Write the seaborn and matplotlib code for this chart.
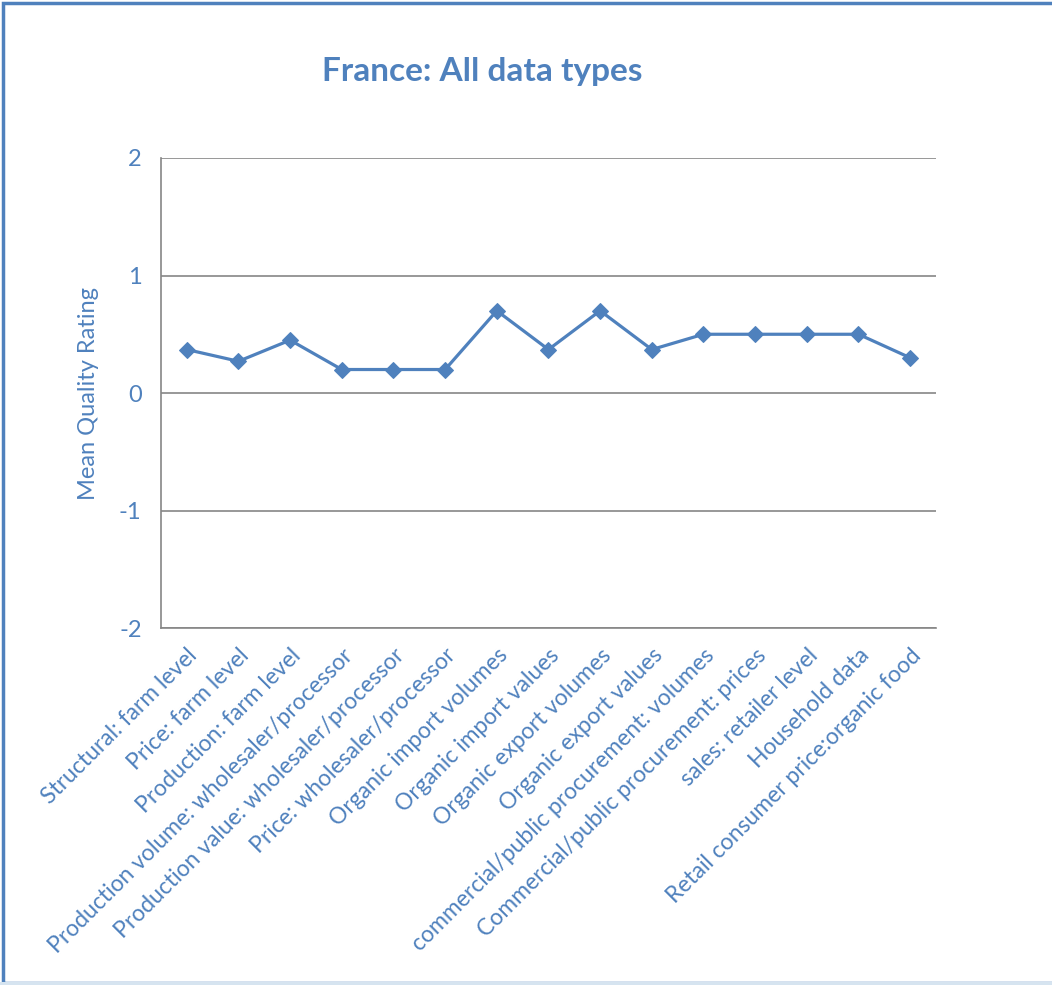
import numpy as np
import pandas as pd
import matplotlib
matplotlib.use("Agg")
import matplotlib.pyplot as plt
from matplotlib.patches import Rectangle
import seaborn as sns

categories = [
    "Structural: farm level",
    "Price: farm level",
    "Production: farm level",
    "Production volume: wholesaler/processor",
    "Production value: wholesaler/processor",
    "Price: wholesaler/processor",
    "Organic import volumes",
    "Organic import values",
    "Organic export volumes",
    "Organic export values",
    "commercial/public procurement: volumes",
    "Commercial/public procurement: prices",
    "sales: retailer level",
    "Household data",
    "Retail consumer price:organic food",
]
values = [0.37, 0.27, 0.45, 0.2, 0.2, 0.2, 0.7, 0.37, 0.7, 0.37, 0.5, 0.5, 0.5, 0.5, 0.3]
y_ticks = [-2, -1, 0, 1, 2]

blue = "#4F81BD"
grid = "#868686"

sns.set_style("white")
plt.rcParams["font.family"] = ["Lato", "DejaVu Sans"]

fig = plt.figure(figsize=(10.52, 9.85), dpi=100)
ax = fig.add_axes([0.153, 0.3624, 0.7367, 0.4772])

df = pd.DataFrame({"pos": np.arange(len(categories)), "value": values})
sns.lineplot(data=df, x="pos", y="value", ax=ax, color=blue, linewidth=2.3,
             marker="D", markersize=8.5, markeredgecolor=blue, sort=False)

ax.set_xlim(-0.5, len(categories) - 0.5)
ax.set_ylim(-2, 2)
ax.set_yticks(y_ticks)
ax.set_yticklabels([str(t) for t in y_ticks], color=blue, fontsize=17)
ax.yaxis.grid(True, color=grid, linewidth=1.2)
ax.set_axisbelow(True)

ax.set_xticks(np.arange(len(categories)))
ax.set_xticklabels(categories, rotation=45, ha="right", rotation_mode="anchor",
                   color=blue, fontsize=16.5)
ax.tick_params(axis="x", which="major", length=0, pad=12)
ax.set_xticks(np.arange(-0.5, len(categories)), minor=True)
ax.tick_params(axis="x", which="minor", length=6, color=grid, width=1.2, direction="out")
ax.tick_params(axis="y", length=6, color=grid, width=1.2, direction="out", pad=8)
ax.set_xlabel("")
ax.set_ylabel("Mean Quality Rating", color=blue, fontsize=17, labelpad=14)

for side in ["top", "right"]:
    ax.spines[side].set_visible(False)
ax.spines["left"].set_color(grid)
ax.spines["bottom"].set_color(grid)
ax.spines["left"].set_linewidth(1.2)
ax.spines["bottom"].set_linewidth(1.2)

fig.text(0.458, 0.927, "France: All data types", color=blue, fontsize=24,
         fontweight="bold", ha="center", va="center")

fig.patches.append(Rectangle((0.003, 0.002), 1.2, 0.995, transform=fig.transFigure,
                             fill=False, edgecolor=blue, linewidth=2.5))
fig.patches.append(Rectangle((0.0, 0.0), 1.0, 0.003, transform=fig.transFigure,
                             facecolor="#D6E4F0", edgecolor="none"))

fig.savefig("out.png", dpi=100)
